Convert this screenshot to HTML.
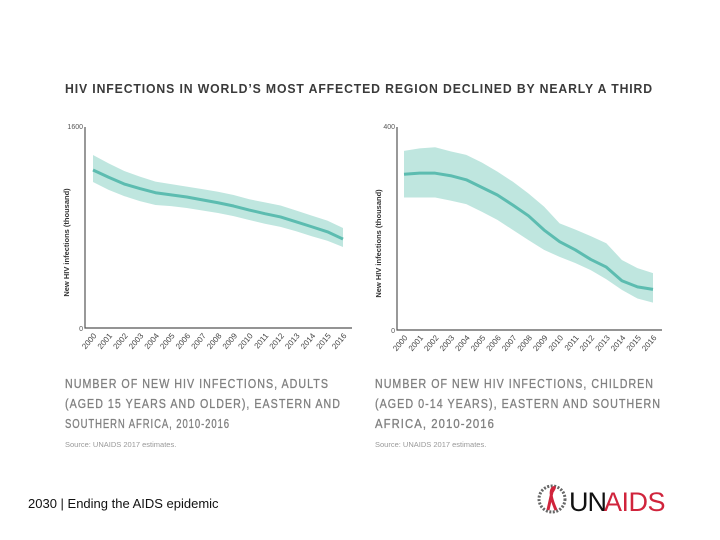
<!DOCTYPE html>
<html><head><meta charset="utf-8"><style>
body{margin:0;background:#fff;}
svg{display:block;font-family:"Liberation Sans",sans-serif;}
</style></head><body>
<svg id="chart" width="720" height="540" viewBox="0 0 720 540">
<text x="359" y="93" text-anchor="middle" font-size="12.5" font-weight="bold" fill="#3a3a3a" letter-spacing="0.9" textLength="588" lengthAdjust="spacingAndGlyphs">HIV INFECTIONS IN WORLD’S MOST AFFECTED REGION DECLINED BY NEARLY A THIRD</text>
<g id="left"></g>
<g id="right"></g>
<g fill="#808080" font-size="12.5" letter-spacing="1.2" stroke="#808080" stroke-width="0.3">
<text x="65" y="388" textLength="264" lengthAdjust="spacingAndGlyphs">NUMBER OF NEW HIV INFECTIONS, ADULTS</text>
<text x="65" y="408" textLength="276" lengthAdjust="spacingAndGlyphs">(AGED 15 YEARS AND OLDER), EASTERN AND</text>
<text x="65" y="428" textLength="165" lengthAdjust="spacingAndGlyphs">SOUTHERN AFRICA, 2010-2016</text>
<text x="375" y="388" textLength="279" lengthAdjust="spacingAndGlyphs">NUMBER OF NEW HIV INFECTIONS, CHILDREN</text>
<text x="375" y="408" textLength="286" lengthAdjust="spacingAndGlyphs">(AGED 0-14 YEARS), EASTERN AND SOUTHERN</text>
<text x="375" y="428" textLength="120" lengthAdjust="spacingAndGlyphs">AFRICA, 2010-2016</text>
</g>
<text x="65" y="447" font-size="7.5" fill="#999">Source: UNAIDS 2017 estimates.</text>
<text x="375" y="447" font-size="7.5" fill="#999">Source: UNAIDS 2017 estimates.</text>
<text x="28" y="508" font-size="13" fill="#111">2030 | Ending the AIDS epidemic</text>
<g>
<circle cx="552" cy="499" r="13" fill="none" stroke="#666" stroke-width="3" stroke-dasharray="2 1.5"/>
<path d="M548 510 L552 492 Q556 486 553 488 Q548 492 556 510" fill="none" stroke="#d0243c" stroke-width="3"/>
<text x="569" y="511" font-size="27" fill="#111" letter-spacing="-1">UN</text>
<text x="604" y="511" font-size="27" fill="#d0243c" letter-spacing="-0.5">AIDS</text>
</g>
</svg>
<script>
const years=["2000","2001","2002","2003","2004","2005","2006","2007","2008","2009","2010","2011","2012","2013","2014","2015","2016"];
const adultsCentral=[1258,1200,1146,1110,1077,1060,1043,1020,997,971,939,910,884,845,806,766,708];
const adultsUpper=[1377,1310,1250,1205,1165,1145,1125,1105,1085,1059,1025,1000,975,935,895,855,796];
const adultsLower=[1162,1100,1050,1010,979,970,955,935,915,891,860,830,805,770,730,695,645];
const adultsTicks=["0","1600"];
const childCentral=[307,309,309,304,296,281,266,246,225,197,174,158,139,124,97,85,80];
const childUpper=[353,358,360,352,345,330,312,292,269,243,210,198,185,171,138,122,112];
const childLower=[261,261,261,255,248,233,217,197,177,158,144,132,118,100,79,62,54];
const childTicks=["0","400"];
const NS="http://www.w3.org/2000/svg";
function mk(p,t,a){const e=document.createElementNS(NS,t);for(const k in a)e.setAttribute(k,a[k]);p.appendChild(e);return e;}
function draw(g,o,central,upper,lower,ticks,maxV){
  const xs=i=>o.x0+(o.x1-o.x0)*i/(years.length-1);
  const ys=v=>o.yb-(o.yb-o.yt)*v/maxV;
  let d="M"+upper.map((v,i)=>xs(i)+","+ys(v)).join(" L")+" L"+lower.map((v,i)=>xs(i)+","+ys(v)).reverse().join(" L")+"Z";
  const band=mk(g,"path",{d:d,fill:"#bfe6df"});
  
  
  const line=mk(g,"polyline",{points:central.map((v,i)=>xs(i)+","+ys(v)).join(" "),fill:"none",stroke:"#5cbcb0","stroke-width":3,"stroke-linejoin":"round"});
  
  
  const ax=mk(g,"path",{d:`M${o.ax},${o.yt} V${o.yb} H${o.x1+9}`,fill:"none",stroke:"#555","stroke-width":1.2});
  
  
  [0,maxV].forEach((v,i)=>{
    const t=mk(g,"text",{x:o.ax-2,y:ys(v)+(i?2:3),"text-anchor":"end","font-size":7,fill:"#555"});
    t.textContent=ticks[i];
    
    
  });
  const yt=mk(g,"text",{transform:`translate(${o.ax-16},${(o.yt+o.yb)/2+15}) rotate(-90)`,"text-anchor":"middle","font-size":7.5,"font-weight":"bold",fill:"#333"});
  yt.textContent="New HIV infections (thousand)";
  
  
  years.forEach((y,i)=>{
    const t=mk(g,"text",{transform:`translate(${xs(i)+4},${o.yb+8}) rotate(-50)`,"text-anchor":"end","font-size":8,fill:"#444"});
    t.textContent=y;
    
    
  });
}
draw(document.getElementById("left"),{ax:85,x0:93,x1:343,yt:127,yb:328},adultsCentral,adultsUpper,adultsLower,adultsTicks,1600);
draw(document.getElementById("right"),{ax:397,x0:404,x1:653,yt:127,yb:330},childCentral,childUpper,childLower,childTicks,400);
</script>
</body></html>
